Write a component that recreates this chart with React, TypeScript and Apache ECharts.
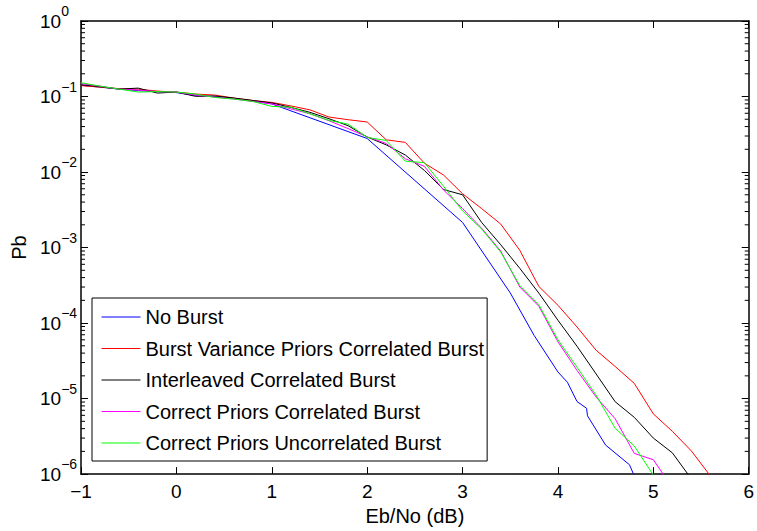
import React, { useEffect, useRef } from 'react';
import * as echarts from 'echarts';

// Eb/No grid (dB) shared by the four burst curves
const ebNo = [-1, -0.8, -0.6, -0.4, -0.2, 0, 0.2, 0.4, 0.6, 0.8, 1.0, 1.2, 1.4, 1.6, 1.8, 2.0, 2.2, 2.4, 2.6, 2.8, 3.0, 3.2, 3.4, 3.6, 3.8, 4.0, 4.2, 4.4, 4.6, 4.8, 5.0, 5.2, 5.4, 5.6];

// No Burst has its own sampling
const noBurstX = [-1, -0.8, -0.6, -0.4, -0.2, 0, 0.2, 0.4, 0.6, 0.8, 1.0, 2.0, 3.0, 3.5, 3.75, 4.0, 4.1, 4.2, 4.3, 4.31, 4.5, 4.75, 4.8];
const noBurstPb = [0.1413, 0.1331, 0.1253, 0.1198, 0.1162, 0.1128, 0.103, 0.1, 0.0942, 0.0873, 0.0798, 0.0278, 0.00215, 2.51e-4, 6.87e-5, 2.25e-5, 1.64e-5, 9.14e-6, 7.45e-6, 5.91e-6, 2.42e-6, 1.33e-6, 9.5e-7];

const burstVarPriorsPb = [0.1393, 0.1331, 0.1272, 0.1253, 0.118, 0.1145, 0.1078, 0.1046, 0.0955, 0.0887, 0.0835, 0.0751, 0.0666, 0.0535, 0.0493, 0.046, 0.0267, 0.0247, 0.0131, 0.00914, 0.00516, 0.00328, 0.00205, 9.19e-4, 3.05e-4, 1.72e-4, 8.87e-5, 4.37e-5, 2.66e-5, 1.59e-5, 6.27e-6, 3.68e-6, 2.02e-6, 9.4e-7];

const interleavedPb = [0.1435, 0.1352, 0.1253, 0.1292, 0.1111, 0.1145, 0.1006, 0.1016, 0.0955, 0.0887, 0.0822, 0.0718, 0.0618, 0.0508, 0.0411, 0.0291, 0.0229, 0.0168, 0.0105, 0.00587, 0.005, 0.00215, 0.00109, 5.31e-4, 2.49e-4, 1.09e-4, 4.93e-5, 2.12e-5, 9.08e-6, 5.65e-6, 3.0e-6, 1.91e-6, 8.6e-7, null];

const correctPriorsCorrPb = [0.148, 0.1372, 0.1253, 0.1216, 0.1162, 0.1145, 0.1046, 0.0985, 0.0927, 0.0861, 0.0798, 0.0687, 0.0591, 0.0478, 0.0376, 0.0293, 0.0239, 0.015, 0.0119, 0.0058, 0.00328, 0.0018, 9.0e-4, 3.0e-4, 1.67e-4, 5.65e-5, 2.36e-5, 1.05e-5, 5.4e-6, 1.88e-6, 1.55e-6, 6.6e-7, null, null];

const correctPriorsUncorrPb = [0.1525, 0.1372, 0.1253, 0.1145, 0.1162, 0.1145, 0.1078, 0.0971, 0.0927, 0.0861, 0.074, 0.0722, 0.0591, 0.0483, 0.0431, 0.0287, 0.0262, 0.0139, 0.0133, 0.0065, 0.00306, 0.00176, 8.73e-4, 3.14e-4, 1.75e-4, 6.0e-5, 2.6e-5, 1.11e-5, 4.05e-6, 2.36e-6, 9.7e-7, null, null, null];

const seriesNames = [
  'No Burst',
  'Burst Variance Priors Correlated Burst',
  'Interleaved Correlated Burst',
  'Correct Priors Correlated Burst',
  'Correct Priors Uncorrelated Burst',
];
const seriesColors = ['#0000ff', '#ff0000', '#000000', '#ff00ff', '#00ff00'];

// log-axis minor ticks (2..9 per decade)
const minorMantissas = [2, 3, 4, 5, 6, 7, 8, 9];
const decadeExponents = [-6, -5, -4, -3, -2, -1];

const FONT = "'Liberation Sans', Arial, Helvetica, sans-serif";

function pairs(xs: number[], ys: (number | null)[]) {
  const out: [number, number][] = [];
  xs.forEach((x, i) => {
    const y = ys[i];
    if (y !== null && y !== undefined) out.push([x, y]);
  });
  return out;
}

export default function App() {
  const ref = useRef<HTMLDivElement>(null);

  useEffect(() => {
    if (!ref.current) return;
    const chart = echarts.init(ref.current, undefined, { renderer: 'svg' });

    const minorVals: number[] = [];
    decadeExponents.forEach((e) => minorMantissas.forEach((m) => minorVals.push(m * Math.pow(10, e))));

    const datasets = [
      pairs(noBurstX, noBurstPb),
      pairs(ebNo, burstVarPriorsPb),
      pairs(ebNo, interleavedPb),
      pairs(ebNo, correctPriorsCorrPb),
      pairs(ebNo, correctPriorsUncorrPb),
    ];

    const axisLine = { show: true, onZero: false, lineStyle: { color: '#000', width: 1.5 } };
    const axisTick = { show: true, inside: true, length: 7, lineStyle: { color: '#000', width: 1 } };

    const option: any = {
      animation: false,
      backgroundColor: '#ffffff',
      color: seriesColors,
      grid: { left: 81, top: 21, right: 6, bottom: 51, containLabel: false },
      xAxis: [
        {
          type: 'value', min: -1, max: 6, interval: 1, position: 'bottom',
          axisLine, axisTick,
          splitLine: { show: false },
          axisLabel: {
            color: '#000', fontSize: 19, fontFamily: FONT, margin: 8,
            showMinLabel: true, showMaxLabel: true,
            formatter: (v: number) => (v < 0 ? '\u2212' + Math.abs(v) : String(v)),
          },
          name: 'Eb/No (dB)', nameLocation: 'middle', nameGap: 26,
          nameTextStyle: { color: '#000', fontSize: 20, fontFamily: FONT },
        },
        {
          type: 'value', min: -1, max: 6, interval: 1, position: 'top',
          axisLine, axisTick,
          splitLine: { show: false },
          axisLabel: { show: false },
        },
      ],
      yAxis: [
        {
          type: 'log', logBase: 10, min: 1e-6, max: 1, position: 'left',
          axisLine, axisTick,
          splitLine: { show: false },
          axisLabel: {
            align: 'left', margin: 41,
            showMinLabel: true, showMaxLabel: true,
            formatter: (v: number) => {
              const e = Math.round(Math.log10(v));
              return '{b|10}{s|' + (e < 0 ? '\u2212' + -e : String(e)) + '}';
            },
            rich: {
              b: { fontSize: 19, fontFamily: FONT, color: '#000' },
              s: { fontSize: 14, fontFamily: FONT, color: '#000', padding: [0, 0, 20, 0] },
            },
          },
          name: 'Pb', nameLocation: 'middle', nameGap: 49, nameRotate: 90,
          nameTextStyle: { color: '#000', fontSize: 20, fontFamily: FONT },
        },
        {
          type: 'log', logBase: 10, min: 1e-6, max: 1, position: 'right',
          axisLine, axisTick,
          splitLine: { show: false },
          axisLabel: { show: false },
        },
      ],
      legend: {
        data: seriesNames.map((n, i) => ({
          name: n,
          itemStyle: { opacity: 0 },
          lineStyle: { color: seriesColors[i], width: 1, opacity: 1, type: 'solid' },
        })),
        orient: 'vertical', left: 92, top: 298,
        itemWidth: 39, itemHeight: 13, itemGap: 11.5,
        padding: [9, 3, 8, 9],
        backgroundColor: '#ffffff', borderColor: '#000', borderWidth: 1, borderRadius: 0,
        itemStyle: { opacity: 0 },
        textStyle: { color: '#000', fontSize: 20, fontFamily: FONT, lineHeight: 20 },
        selectedMode: false,
      },
      series: [
        ...datasets.map((d, i) => ({
          name: seriesNames[i], type: 'line', data: d,
          xAxisIndex: 0, yAxisIndex: 0,
          showSymbol: false, symbol: 'none', clip: true, silent: true,
          color: seriesColors[i],
          lineStyle: { color: seriesColors[i], width: 1 },
          itemStyle: { color: seriesColors[i] },
          emphasis: { disabled: true },
          z: 2 + i,
        })),
        {
          type: 'custom', name: 'minorTicks', silent: true, clip: false,
          xAxisIndex: 0, yAxisIndex: 0,
          data: minorVals.map((v) => [-1, v]),
          renderItem: (_p: any, api: any) => {
            const v = api.value(1);
            const l = api.coord([-1, v]);
            const r = api.coord([6, v]);
            return {
              type: 'group',
              children: [
                { type: 'line', shape: { x1: l[0], y1: l[1], x2: l[0] + 4, y2: l[1] }, style: { stroke: '#000', lineWidth: 1 } },
                { type: 'line', shape: { x1: r[0] - 4, y1: r[1], x2: r[0], y2: r[1] }, style: { stroke: '#000', lineWidth: 1 } },
              ],
            };
          },
          z: 20,
        },
      ],
    };

    chart.setOption(option);
    return () => chart.dispose();
  }, []);

  return (
    <div
      ref={ref}
      style={{ position: 'fixed', left: 0, top: 0, width: 757, height: 531, background: '#fff' }}
    />
  );
}
